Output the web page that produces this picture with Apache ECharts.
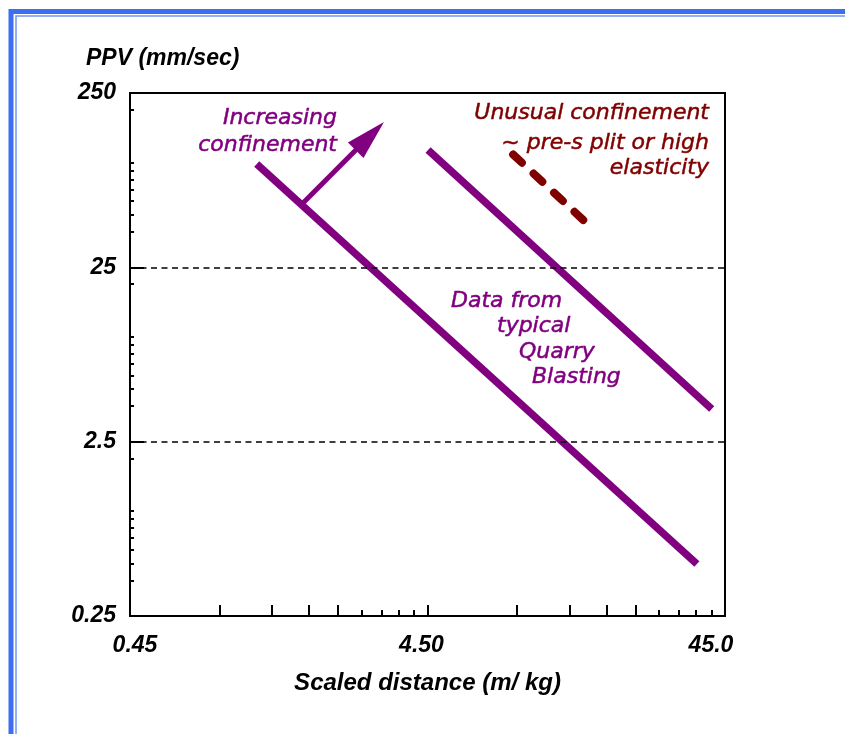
<!DOCTYPE html>
<html>
<head>
<meta charset="utf-8">
<script src="https://cdn.jsdelivr.net/npm/echarts@6/dist/echarts.min.js"></script>
<style>
  html, body { margin: 0; padding: 0; background: #fff; }
  #main { width: 845px; height: 734px; }
</style>
</head>
<body>
<div id="main"></div>
<script>
// axis values
const xLabelValues = [0.45, 4.5, 45];
const xLabelText = ['0.45', '4.50', '45.0'];
const xTallTicks = [0.9, 1.35, 1.8, 2.25, 4.5, 9, 13.5, 18, 22.5];
const xShortTicks = [2.7, 3.15, 3.6, 4.05, 27, 31.5, 36, 40.5];
const yLabelValues = [0.25, 2.5, 25, 250];
const yLabelText = ['0.25', '2.5', '25', '250'];
const yLongTicks = [2.5, 25];
const yShortTicks = [0.4, 0.5, 0.6, 0.7, 0.8, 0.9, 1, 2, 4, 5, 6, 7, 8, 9, 10, 20, 40, 50, 60, 70, 80, 90, 100, 200];
const gridLevels = [2.5, 25];

// lines (scaled distance, PPV)
const lowerLine = [[1.2, 97.9], [36.2, 0.497]];
const upperLine = [[4.52, 117.8], [40.6, 3.85]];
const arrowLine = [[1.717, 58.5], [2.88, 141.5]];
const unusualLine = [[8.73, 111], [15.08, 46.4]];

const purple = '#800080';
const maroon = '#800000';
const tickFont = { fontFamily: 'Liberation Sans, Arial, sans-serif', fontStyle: 'italic', fontWeight: 'bold', fontSize: 22, color: '#000' };

function pick(values, texts) {
  return function (v) {
    for (let i = 0; i < values.length; i++) {
      if (Math.abs(v - values[i]) / values[i] < 0.01) return texts[i];
    }
    return '';
  };
}

// x labels sit a little off their ticks in the original
const xLabelStyle = ['a', 'b', 'c'];
function xLabel(v) {
  for (let i = 0; i < xLabelValues.length; i++) {
    if (Math.abs(v - xLabelValues[i]) / xLabelValues[i] < 0.01) return '{' + xLabelStyle[i] + '|' + xLabelText[i] + '}';
  }
  return '';
}
const xRich = {
  a: Object.assign({}, tickFont, { fontSize: 23, padding: [0, 0, 0, 10] }),
  b: Object.assign({}, tickFont, { fontSize: 23, padding: [0, 12, 0, 0] }),
  c: Object.assign({}, tickFont, { fontSize: 23, padding: [0, 28, 0, 0] })
};

const chart = echarts.init(document.getElementById('main'));

const noteFont = '22px "DejaVu Sans", Verdana, sans-serif';
function note(text, x, y, color, align) {
  return {
    type: 'text', x: x, y: y, silent: true,
    style: { text: text, fill: color, stroke: color, lineWidth: 0.5, font: 'italic ' + noteFont, textAlign: align, textVerticalAlign: 'middle' }
  };
}

const option = {
  backgroundColor: '#fff',
  animation: false,
  title: {
    text: 'PPV (mm/sec)', left: 81, top: 42,
    textStyle: { fontFamily: 'Liberation Sans, Arial, sans-serif', fontStyle: 'italic', fontWeight: 'bold', fontSize: 23, color: '#000' }
  },
  grid: { left: 130, right: 120, top: 93, bottom: 118, show: true, borderColor: '#000', borderWidth: 2, backgroundColor: 'transparent' },
  xAxis: [{
    type: 'log', logBase: 10, min: 0.45, max: 45, position: 'bottom',
    name: 'Scaled distance (m/ kg)', nameLocation: 'middle', nameGap: 55,
    nameTextStyle: Object.assign({}, tickFont, { fontSize: 24 }),
    axisLine: { show: true, lineStyle: { color: '#000', width: 2 } },
    axisTick: { show: true, inside: true, length: 11, customValues: xTallTicks, lineStyle: { color: '#000', width: 2 } },
    axisLabel: Object.assign({ customValues: xLabelValues, margin: 18, formatter: xLabel, rich: xRich }, tickFont),
    splitLine: { show: false }, minorTick: { show: false }
  }, {
    type: 'log', logBase: 10, min: 0.45, max: 45, position: 'bottom',
    axisLine: { show: false },
    axisTick: { show: true, inside: true, length: 6, customValues: xShortTicks, lineStyle: { color: '#000', width: 2 } },
    axisLabel: { show: false }, splitLine: { show: false }
  }],
  yAxis: [{
    type: 'log', logBase: 10, min: 0.25, max: 250, position: 'left',
    axisLine: { show: true, lineStyle: { color: '#000', width: 2 } },
    axisTick: { show: true, inside: true, length: 14, customValues: yLongTicks, lineStyle: { color: '#000', width: 2 } },
    axisLabel: Object.assign({ customValues: yLabelValues, margin: 14, formatter: pick(yLabelValues, yLabelText) }, tickFont, { fontSize: 23 }),
    splitLine: { show: false }, minorTick: { show: false }
  }, {
    type: 'log', logBase: 10, min: 0.25, max: 250, position: 'left',
    axisLine: { show: false },
    axisTick: { show: true, inside: true, length: 4, customValues: yShortTicks, lineStyle: { color: '#000', width: 2 } },
    axisLabel: { show: false }, splitLine: { show: false }
  }],
  graphic: [
    { type: 'rect', silent: true, shape: { x: 11, y: 11.5, width: 1000, height: 1000 }, style: { fill: null, stroke: '#3d6ef2', lineWidth: 5 } },
    { type: 'rect', silent: true, shape: { x: 16, y: 16, width: 1000, height: 1000 }, style: { fill: null, stroke: '#6f95f6', lineWidth: 1.5 } },
    note('Increasing', 337, 118, purple, 'right'),
    note('confinement', 337, 145, purple, 'right'),
    note('Unusual confinement', 709, 113, maroon, 'right'),
    note('~ pre-s plit or high', 709, 143, maroon, 'right'),
    note('elasticity', 709, 168, maroon, 'right'),
    note('Data from', 451, 301, purple, 'left'),
    note('typical', 497, 326, purple, 'left'),
    note('Quarry', 519, 352, purple, 'left'),
    note('Blasting', 532, 377, purple, 'left')
  ],
  series: [{
    type: 'line', data: lowerLine, showSymbol: false, silent: true,
    lineStyle: { color: purple, width: 7.5 },
    markLine: {
      silent: true, symbol: 'none', label: { show: false },
      lineStyle: { color: '#000', width: 1.5, type: [6, 4.5] },
      data: gridLevels.map(v => ({ yAxis: v }))
    }
  }, {
    type: 'line', data: upperLine, showSymbol: false, silent: true,
    lineStyle: { color: purple, width: 7.5 }
  }, {
    type: 'line', data: [], silent: true,
    markLine: {
      silent: true, label: { show: false },
      lineStyle: { color: purple, width: 5, type: 'solid' },
      data: [[
        { coord: arrowLine[0], symbol: 'none' },
        { coord: arrowLine[1], symbol: 'triangle', symbolSize: [22, 40] }
      ]]
    }
  }, {
    type: 'line', data: unusualLine, showSymbol: false, silent: true,
    lineStyle: { color: maroon, width: 8, type: [12, 16], cap: 'round' }
  }]
};

chart.setOption(option);
</script>
</body>
</html>
